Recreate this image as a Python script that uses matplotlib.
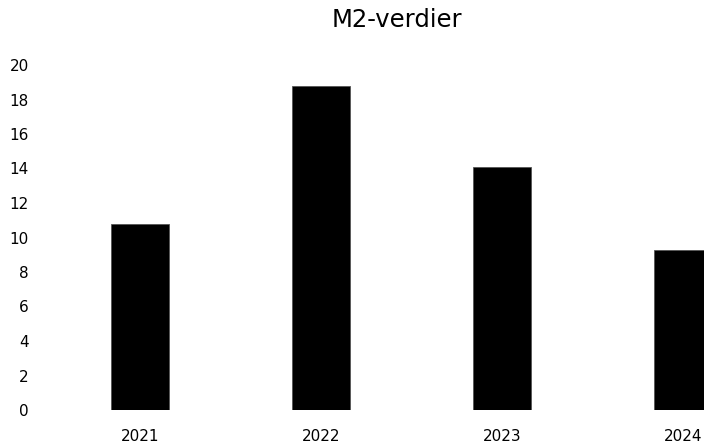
import matplotlib
matplotlib.use('Agg')
import matplotlib.pyplot as plt

plt.rcParams['font.family'] = ['DejaVu Sans']

years = ['2021', '2022', '2023', '2024']
values = [10.8, 18.8, 14.1, 9.3]
y_ticks = list(range(0, 21, 2))

fig = plt.figure(figsize=(7.04, 4.47), dpi=100)
W, H = 704, 447
# axes box in pixels: x 40..704, y 60..410 (top-down)
ax = fig.add_axes([40 / W, (H - 410) / H, (704 - 40) / W, (410 - 60) / H])

ax.bar(range(len(years)), values, width=0.315, color='black', edgecolor='#555555', linewidth=0.6)

ax.set_xlim((40 - 140) / 181, (704 - 140) / 181)
ax.set_ylim(0, 20 * 350 / 345)
ax.set_xticks(range(len(years)))
ax.set_xticklabels(years, fontsize=11)
ax.set_yticks(y_ticks)
ax.set_yticklabels([str(t) for t in y_ticks], fontsize=11)
ax.tick_params(axis='both', length=0)
ax.tick_params(axis='x', pad=14)
ax.tick_params(axis='y', pad=8)
for s in ax.spines.values():
    s.set_visible(False)

fig.text(397 / W, 1 - 20 / H, 'M2-verdier', ha='center', va='center', fontsize=17.5)

fig.savefig('out.png', dpi=100, facecolor='white')
